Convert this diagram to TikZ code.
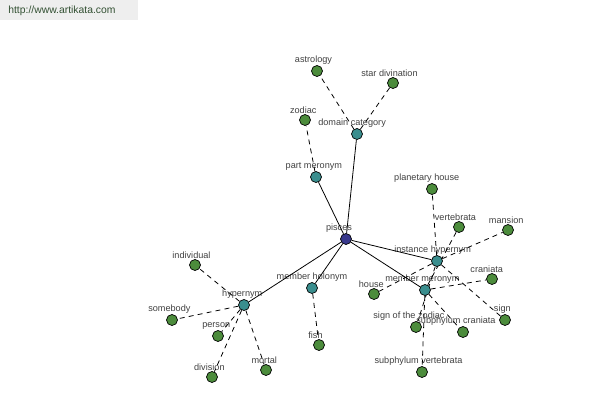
\documentclass[tikz,border=0pt]{standalone}
\usepackage{fontspec}
\setmainfont{Liberation Sans}
\usetikzlibrary{positioning, backgrounds}

\definecolor{leafgreen}{RGB}{76,140,60}
\definecolor{relteal}{RGB}{58,142,142}
\definecolor{rootnavy}{RGB}{56,56,140}
\definecolor{lbltext}{RGB}{64,64,64}
\definecolor{urltext}{RGB}{50,80,50}

\tikzset{
    word/.style={circle, draw=black, line width=0.4pt, minimum size=0.22cm, inner sep=0pt},
    leaf/.style={word, fill=leafgreen},
    rel/.style={word, fill=relteal},
    root/.style={word, fill=rootnavy},
    lbl/.style={font=\fontsize{5.2}{6}\selectfont, text=lbltext, inner sep=0pt},
    link/.style={line width=0.45pt},
    sublink/.style={line width=0.45pt, dash pattern=on 2.8pt off 2.4pt}
}

\begin{document}
\begin{tikzpicture}[x=0.02cm, y=-0.02cm]
    \useasboundingbox (0,0) rectangle (600,400);
    
    % Source banner
    \fill[gray!13] (0,0) rectangle (138,20);
    \node[anchor=west, inner sep=0pt, text=urltext, font=\fontsize{5.9}{7}\selectfont] (url) at (8,11) {http://www.artikata.com};
    
    % Root and relation nodes
    \node[root] (pisces) at (346,239) {};
    \node[rel] (domcat) at (357,134) {};
    \node[rel] (partmer) at (316,177) {};
    \node[rel] (insthyp) at (437,261) {};
    \node[rel] (membmer) at (425,290) {};
    \node[rel] (membhol) at (312,288) {};
    \node[rel] (hyper) at (244,305) {};
    
    % Word nodes
    \node[leaf] (astrology) at (317,71) {};
    \node[leaf] (stardiv) at (393,83) {};
    \node[leaf] (zodiac) at (305,120) {};
    \node[leaf] (planhouse) at (432,189) {};
    \node[leaf] (vertebrata) at (459,227) {};
    \node[leaf] (mansion) at (508,230) {};
    \node[leaf] (craniata) at (492,279) {};
    \node[leaf] (house) at (374,294) {};
    \node[leaf] (sign) at (505,320) {};
    \node[leaf] (signzod) at (416,327) {};
    \node[leaf] (subcran) at (463,332) {};
    \node[leaf] (subvert) at (422,372) {};
    \node[leaf] (fish) at (319,345) {};
    \node[leaf] (individual) at (195,265) {};
    \node[leaf] (somebody) at (172,320) {};
    \node[leaf] (person) at (218,336) {};
    \node[leaf] (division) at (212,377) {};
    \node[leaf] (mortal) at (266,370) {};
    
    \begin{scope}[on background layer]
        % Labels
        \node[lbl, above=0pt of pisces, xshift=-4pt] {pisces};
        \node[lbl, above=0pt of domcat, xshift=-2.8pt] {domain category};
        \node[lbl, above=0pt of partmer, xshift=-1.2pt] {part meronym};
        \node[lbl, above=0pt of insthyp, xshift=-2.5pt] {instance hypernym};
        \node[lbl, above=0pt of membmer, xshift=-1.5pt] {member meronym};
        \node[lbl, above=0pt of membhol, xshift=0pt] {member holonym};
        \node[lbl, above=0pt of hyper, xshift=-1pt] {hypernym};
        \node[lbl, above=0pt of astrology, xshift=-2pt] {astrology};
        \node[lbl, above=0pt of stardiv, xshift=-2pt] {star divination};
        \node[lbl, above=0pt of zodiac, xshift=-1pt] {zodiac};
        \node[lbl, above=0pt of planhouse, xshift=-3pt] {planetary house};
        \node[lbl, above=0pt of vertebrata, xshift=-2pt] {vertebrata};
        \node[lbl, above=0pt of mansion, xshift=-1pt] {mansion};
        \node[lbl, above=0pt of craniata, xshift=-3pt] {craniata};
        \node[lbl, above=0pt of house, xshift=-1.5pt] {house};
        \node[lbl, above=0pt of sign, xshift=-1.5pt] {sign};
        \node[lbl, above=0pt of signzod, xshift=-4pt] {sign of the zodiac};
        \node[lbl, above=0pt of subcran, xshift=-4pt] {subphylum craniata};
        \node[lbl, above=0pt of subvert, xshift=-2pt] {subphylum vertebrata};
        \node[lbl, above=0pt of fish, xshift=-2pt] {fish};
        \node[lbl, above=0pt of individual, xshift=-2pt] {individual};
        \node[lbl, above=0pt of somebody, xshift=-1.5pt] {somebody};
        \node[lbl, above=0pt of person, xshift=-1pt] {person};
        \node[lbl, above=0pt of division, xshift=-1.5pt] {division};
        \node[lbl, above=0pt of mortal, xshift=-1pt] {mortal};
        
        % Relations from the root
        \foreach \r in {domcat, partmer, insthyp, membmer, membhol, hyper}
            \draw[link] (pisces) -- (\r);
        
        % Words under each relation
        \foreach \w in {astrology, stardiv}
            \draw[sublink] (domcat) -- (\w);
        \draw[sublink] (partmer) -- (zodiac);
        \foreach \w in {planhouse, mansion, house, sign, signzod}
            \draw[sublink] (insthyp) -- (\w);
        \foreach \w in {vertebrata, craniata, subcran, subvert}
            \draw[sublink] (membmer) -- (\w);
        \draw[sublink] (membhol) -- (fish);
        \foreach \w in {individual, somebody, person, division, mortal}
            \draw[sublink] (hyper) -- (\w);
    \end{scope}
\end{tikzpicture}
\end{document}
